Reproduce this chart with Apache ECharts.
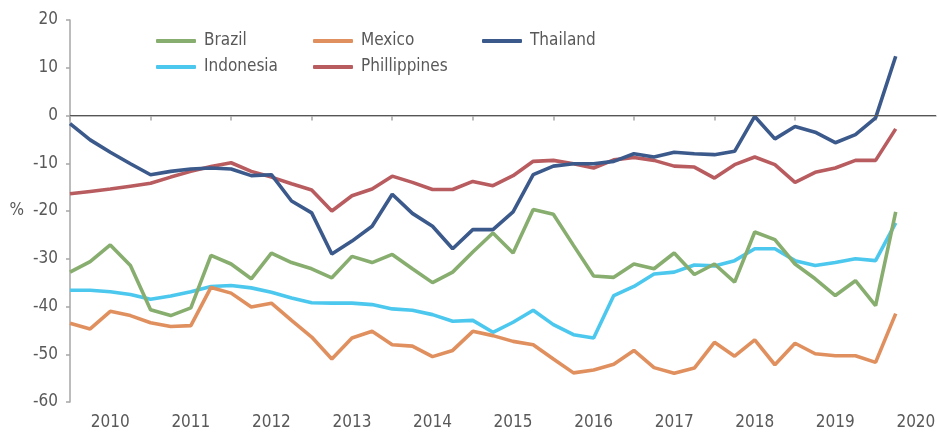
<!DOCTYPE html>
<html>
<head>
<meta charset="utf-8">
<script src="https://cdn.jsdelivr.net/npm/echarts@6/dist/echarts.min.js"></script>
<style>html,body{margin:0;padding:0;background:#fff;}#c{width:940px;height:432px;}</style>
</head>
<body>
<div id="c"></div>
<script>
const years = ['2010','2011','2012','2013','2014','2015','2016','2017','2018','2019','2020'];
const quarters = ['Q1','Q2','Q3','Q4'];
const yTicks = { min: -60, max: 20, step: 10 };

const brazil = [-32.8,-30.6,-27.1,-31.4,-40.7,-41.9,-40.3,-29.3,-31.1,-34.2,
  -28.8,-30.8,-32.1,-34.0,-29.5,-30.8,-29.1,-32.1,-35.0,-32.8,
  -28.6,-24.6,-28.8,-19.7,-20.7,-27.2,-33.6,-33.9,-31.1,-32.1,
  -28.8,-33.3,-31.1,-34.9,-24.4,-26.0,-31.1,-34.2,-37.7,-34.6,
  -39.8,-20.2];
const indonesia = [-36.6,-36.6,-36.9,-37.5,-38.5,-37.8,-36.9,-35.8,-35.6,-36.1,
  -37.0,-38.2,-39.2,-39.3,-39.3,-39.6,-40.5,-40.8,-41.7,-43.1,
  -42.9,-45.4,-43.3,-40.8,-43.8,-45.9,-46.6,-37.7,-35.8,-33.2,
  -32.8,-31.3,-31.5,-30.4,-27.9,-27.9,-30.4,-31.4,-30.8,-30.0,
  -30.4,-22.5];
const mexico = [-43.5,-44.7,-41.0,-41.9,-43.4,-44.2,-44.0,-36.0,-37.2,-40.1,
  -39.3,-42.9,-46.4,-51.0,-46.6,-45.2,-48.0,-48.3,-50.5,-49.2,
  -45.2,-46.1,-47.3,-48.0,-51.0,-53.9,-53.3,-52.1,-49.2,-52.8,
  -54.0,-52.9,-47.5,-50.4,-47.0,-52.2,-47.7,-49.9,-50.3,-50.3,
  -51.7,-41.5];
const philippines = [-16.4,-15.9,-15.4,-14.8,-14.2,-12.9,-11.7,-10.7,-9.9,-11.7,
  -12.9,-14.3,-15.6,-20.0,-16.8,-15.4,-12.7,-14.0,-15.5,-15.5,
  -13.8,-14.7,-12.6,-9.6,-9.4,-10.1,-11.0,-9.3,-8.8,-9.4,
  -10.6,-10.8,-13.1,-10.3,-8.7,-10.3,-14.0,-11.9,-11.0,-9.4,
  -9.4,-2.8];
const thailand = [-1.7,-5.1,-7.7,-10.1,-12.4,-11.7,-11.2,-11.0,-11.2,-12.6,
  -12.4,-17.9,-20.4,-29.0,-26.3,-23.2,-16.5,-20.5,-23.2,-27.9,
  -23.9,-23.9,-20.2,-12.4,-10.6,-10.1,-10.1,-9.6,-8.0,-8.7,
  -7.7,-8.0,-8.2,-7.5,-0.2,-4.9,-2.3,-3.5,-5.7,-4.0,
  -0.5,12.4];

const categories = years.flatMap(y => quarters.map(q => y + q));

const FONT = "'Liberation Sans Narrow', 'DejaVu Sans Condensed', sans-serif";
const TXT = '#595959';
const AX = '#A6A6A6';

const chart = echarts.init(document.getElementById('c'), null, { renderer: 'canvas' });

const legendCommon = {
  orient: 'vertical', top: 31, padding: 0, itemWidth: 40, itemHeight: 4, itemGap: 6,
  icon: 'roundRect',
  textStyle: { fontFamily: FONT, fontSize: 17, color: TXT, lineHeight: 20, padding: [0, 0, 0, 3] }
};

function mk(name, data, color, extra) {
  return Object.assign({
    name, type: 'line', data, symbol: 'none', smooth: false,
    lineStyle: { width: 3.6, color }, itemStyle: { color },
    emphasis: { disabled: true }
  }, extra || {});
}

chart.setOption({
  animation: false,
  backgroundColor: '#fff',
  grid: { left: 70, right: 4, top: 20, bottom: 30 },
  legend: [
    Object.assign({ left: 156, data: ['Brazil', 'Indonesia'] }, legendCommon),
    Object.assign({ left: 313, data: ['Mexico', 'Phillippines'] }, legendCommon),
    Object.assign({ left: 482, data: ['Thailand'] }, legendCommon)
  ],
  xAxis: {
    type: 'category', data: categories, boundaryGap: false,
    axisLine: { lineStyle: { color: AX, width: 1.5 } },
    axisTick: { interval: (i) => i % 4 === 0, length: 5, lineStyle: { color: AX, width: 1.5 } },
    axisLabel: { interval: (i) => i % 4 === 2, formatter: v => v.slice(0, 4), color: TXT,
      fontFamily: FONT, fontSize: 17, margin: 12 },
    splitLine: { show: false }
  },
  yAxis: {
    type: 'value', min: yTicks.min, max: yTicks.max, interval: yTicks.step,
    axisLine: { show: true, lineStyle: { color: AX, width: 1.5 } },
    axisTick: { show: true, length: 4, lineStyle: { color: AX, width: 1.5 } },
    splitLine: { show: false },
    axisLabel: { color: TXT, fontFamily: FONT, fontSize: 17, margin: 12 },
    name: '%', nameLocation: 'middle', nameRotate: 0, nameGap: 46,
    nameTextStyle: { color: TXT, fontFamily: FONT, fontSize: 17 }
  },
  series: [
    mk('Indonesia', indonesia, '#4CC8EE'),
    mk('Mexico', mexico, '#E0905E'),
    mk('Phillippines', philippines, '#B95C60'),
    mk('Brazil', brazil, '#88AE6F'),
    mk('Thailand', thailand, '#3B5A8B', {
      markLine: { silent: true, symbol: 'none', label: { show: false },
        lineStyle: { color: '#555', width: 1, type: 'solid' }, data: [{ yAxis: 0 }] }
    })
  ]
});
</script>
</body>
</html>
